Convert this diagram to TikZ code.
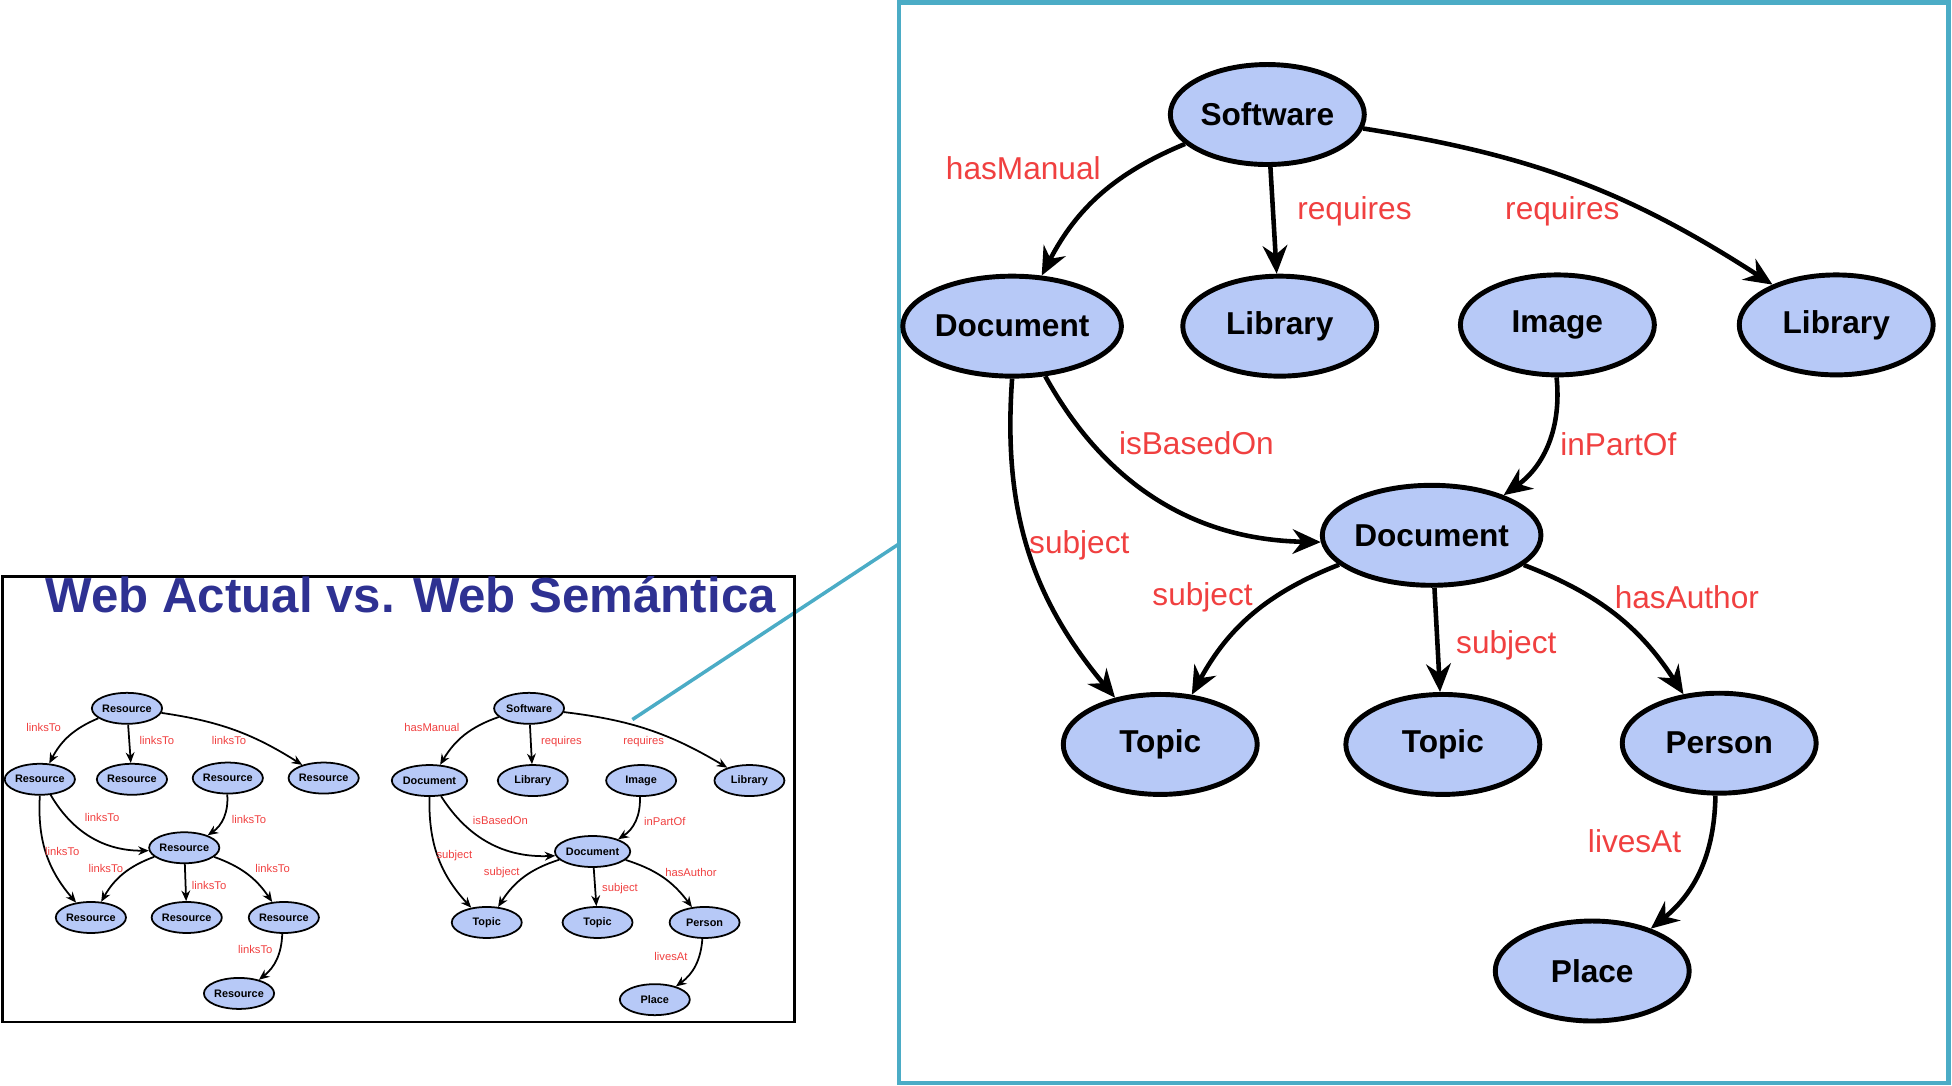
\documentclass[tikz,border=0pt]{standalone}
\usepackage{fontspec}
\setmainfont{Liberation Sans}
\usetikzlibrary{positioning,arrows.meta,shapes.geometric}
\definecolor{nodeblue}{RGB}{183,201,247}
\definecolor{lblred}{RGB}{240,64,64}
\definecolor{frameteal}{RGB}{75,172,198}
\definecolor{titleblue}{RGB}{46,49,146}
\tikzset{
  big/.style={ellipse,draw=black,line width=1.4pt,fill=nodeblue,minimum width=1.94cm,minimum height=1cm,inner sep=0pt,font=\fontsize{9}{11}\selectfont\bfseries},
  small/.style={ellipse,draw=black,line width=0.5pt,fill=nodeblue,minimum width=0.7cm,minimum height=0.31cm,inner sep=0pt,font=\fontsize{3.1}{4}\selectfont\bfseries},
  bigedge/.style={-{Stealth[length=8pt,width=7pt]},line width=1.3pt},
  smalledge/.style={-{Stealth[length=3pt,width=2.5pt]},line width=0.5pt},
  biglbl/.style={text=lblred,font=\fontsize{9}{11}\selectfont},
  smalllbl/.style={text=lblred,font=\fontsize{3.2}{4}\selectfont}
}
\begin{document}
\begin{tikzpicture}[x=0.01245cm,y=-0.01245cm]
		\useasboundingbox (0,0) rectangle (1568,872);

		%frames
		\draw[frameteal,line width=1.3pt] (722,2) rectangle (1565,870);
		\coordinate (zs) at (508,578);
		\coordinate (ze) at (722,437);
		\draw[frameteal,line width=1pt] (zs) -- (ze);
		\draw[black,line width=0.8pt] (2,463) rectangle (638,821);
		\node[text=titleblue,font=\fontsize{14}{16}\selectfont\bfseries] (title) at (330,478) {Web Actual vs. Web Semántica};

		%big nodes
		\node[big] (sw) at (1018,92) {Software};
		\node[big] (d1) at (813,262) {Document};
		\node[big] (l1) at (1028,262) {Library};
		\node[big] (im) at (1251,261) {Image};
		\node[big] (l2) at (1475,261) {Library};
		\node[big] (d2) at (1150,430) {Document};
		\node[big] (t1) at (932,598) {Topic};
		\node[big] (t2) at (1159,598) {Topic};
		\node[big] (pe) at (1381,597) {Person};
		\node[big] (pl) at (1279,780) {Place};

		%big edges
		\draw[bigedge] (sw) to[bend right=20] (d1);
		\draw[bigedge] (sw) -- (l1);
		\draw[bigedge] (sw) to[bend left=12] (l2);
		\draw[bigedge] (d1) to[bend right=30] (d2);
		\draw[bigedge] (d1.south) to[bend right=22] (t1);
		\draw[bigedge] (im) to[bend left=30] (d2);
		\draw[bigedge] (d2) to[bend right=20] (t1);
		\draw[bigedge] (d2) -- (t2);
		\draw[bigedge] (d2) to[bend left=18] (pe);
		\draw[bigedge] (pe) to[bend left=25] (pl);

		%big labels
		\node[biglbl] (b1) at (822,135) {hasManual};
		\node[biglbl] (b2) at (1088,170) {requires};
		\node[biglbl] (b3) at (1255,170) {requires};
		\node[biglbl] (b4) at (961,356) {isBasedOn};
		\node[biglbl] (b5) at (1300,357) {inPartOf};
		\node[biglbl] (b6) at (867,438) {subject};
		\node[biglbl] (b7) at (966,480) {subject};
		\node[biglbl] (b8) at (1210,518) {subject};
		\node[biglbl] (b9) at (1355,480) {hasAuthor};
		\node[biglbl] (b10) at (1313,676) {livesAt};

		%small web graph
		\node[small] (r1) at (102,569) {Resource};
		\node[small] (r2) at (32,626) {Resource};
		\node[small] (r3) at (106,626) {Resource};
		\node[small] (r4) at (183,625) {Resource};
		\node[small] (r5) at (260,625) {Resource};
		\node[small] (r6) at (148,681) {Resource};
		\node[small] (r7) at (73,737) {Resource};
		\node[small] (r8) at (150,737) {Resource};
		\node[small] (r9) at (228,737) {Resource};
		\node[small] (r10) at (192,798) {Resource};
		\draw[smalledge] (r1) to[bend right=20] (r2);
		\draw[smalledge] (r1) -- (r3);
		\draw[smalledge] (r1) to[bend left=12] (r5);
		\draw[smalledge] (r2) to[bend right=30] (r6);
		\draw[smalledge] (r2.south) to[bend right=22] (r7);
		\draw[smalledge] (r4) to[bend left=30] (r6);
		\draw[smalledge] (r6) to[bend right=20] (r7);
		\draw[smalledge] (r6) -- (r8);
		\draw[smalledge] (r6) to[bend left=18] (r9);
		\draw[smalledge] (r9) to[bend left=25] (r10);
		\node[smalllbl] (a1) at (35,584) {linksTo};
		\node[smalllbl] (a2) at (126,595) {linksTo};
		\node[smalllbl] (a3) at (184,595) {linksTo};
		\node[smalllbl] (a4) at (82,657) {linksTo};
		\node[smalllbl] (a5) at (200,658) {linksTo};
		\node[smalllbl] (a6) at (50,684) {linksTo};
		\node[smalllbl] (a7) at (85,698) {linksTo};
		\node[smalllbl] (a8) at (168,711) {linksTo};
		\node[smalllbl] (a9) at (219,698) {linksTo};
		\node[smalllbl] (a10) at (205,763) {linksTo};

		%small semantic graph
		\node[small] (s1) at (425,569) {Software};
		\node[small] (s2) at (345,627) {Document};
		\node[small] (s3) at (428,627) {Library};
		\node[small] (s4) at (515,627) {Image};
		\node[small] (s5) at (602,627) {Library};
		\node[small] (s6) at (476,684) {Document};
		\node[small] (s7) at (391,741) {Topic};
		\node[small] (s8) at (480,741) {Topic};
		\node[small] (s9) at (566,741) {Person};
		\node[small] (s10) at (526,803) {Place};
		\draw[smalledge] (s1) to[bend right=20] (s2);
		\draw[smalledge] (s1) -- (s3);
		\draw[smalledge] (s1) to[bend left=12] (s5);
		\draw[smalledge] (s2) to[bend right=30] (s6);
		\draw[smalledge] (s2.south) to[bend right=22] (s7);
		\draw[smalledge] (s4) to[bend left=30] (s6);
		\draw[smalledge] (s6) to[bend right=20] (s7);
		\draw[smalledge] (s6) -- (s8);
		\draw[smalledge] (s6) to[bend left=18] (s9);
		\draw[smalledge] (s9) to[bend left=25] (s10);
		\node[smalllbl] (c1) at (347,584) {hasManual};
		\node[smalllbl] (c2) at (451,596) {requires};
		\node[smalllbl] (c3) at (517,596) {requires};
		\node[smalllbl] (c4) at (402,659) {isBasedOn};
		\node[smalllbl] (c5) at (534,660) {inPartOf};
		\node[smalllbl] (c6) at (365,687) {subject};
		\node[smalllbl] (c7) at (403,701) {subject};
		\node[smalllbl] (c8) at (498,714) {subject};
		\node[smalllbl] (c9) at (555,701) {hasAuthor};
		\node[smalllbl] (c10) at (539,768) {livesAt};

\end{tikzpicture}
\end{document}
